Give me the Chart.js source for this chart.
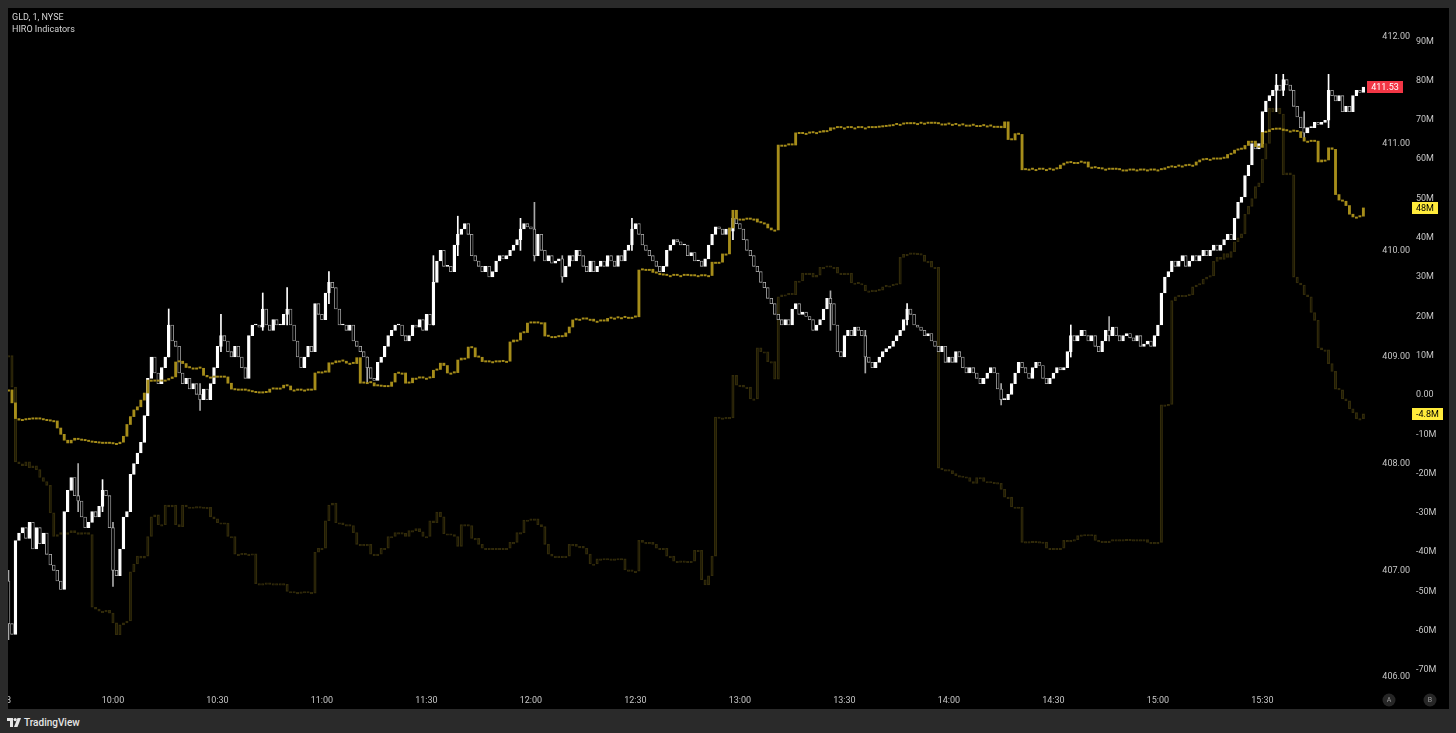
<!DOCTYPE html>
<html><head><meta charset="utf-8">
<script src="https://cdn.jsdelivr.net/npm/chart.js@4.4.1/dist/chart.umd.min.js"></script>
<style>
html,body{margin:0;padding:0;background:#2a2a2a;width:1456px;height:733px;overflow:hidden;font-family:Roboto,"Noto Sans",sans-serif;}
#pane{position:absolute;left:8px;top:8px;width:1441px;height:701px;background:#000;overflow:hidden}
#c{position:absolute;left:0;top:0}
.tt{position:absolute;left:4px;color:#d4d4d4;font-size:9px;line-height:11px;white-space:nowrap}
#foot{position:absolute;left:7px;top:715px;height:14px;display:flex;align-items:center;color:#e6e6e6;font-size:10px;font-weight:500}
#foot svg{margin-right:3px}
</style></head>
<body>
<div id="pane">
  <canvas id="c" width="1441" height="701"></canvas>
  <div class="tt" style="top:4px">GLD, 1, NYSE</div>
  <div class="tt" style="top:16px">HIRO Indicators</div>
</div>
<div id="foot"><svg width="14" height="9" viewBox="0 0 14 9"><path d="M0 0h6v9H3V3H0z" fill="#e6e6e6"/><circle cx="8.2" cy="1.6" r="1.6" fill="#e6e6e6"/><path d="M10.5 0H14L10.5 9H7z" fill="#e6e6e6"/></svg>TradingView</div>
<script>
// ---- data ----
const timeLabels = ['8','10:00','10:30','11:00','11:30','12:00','12:30','13:00','13:30','14:00','14:30','15:00','15:30'];
const tickMinutes = [0,30,60,90,120,150,180,210,240,270,300,330,360];
const priceTicks = [406,407,408,409,410,411,412];
const hiroTicks = [-70,-60,-50,-40,-30,-20,-10,0,10,20,30,40,50,60,70,80,90];
const firstOpen = 406.9;
const closes = [
406.5,406.4,407.28,407.35,407.4,407.3,407.45,407.2,407.4,407.25,
407.35,407.15,407.05,407.0,406.9,406.82,407.55,407.75,407.87,407.7,
407.65,407.5,407.4,407.45,407.55,407.5,407.6,407.75,407.7,407.4,
407.0,406.95,407.2,407.5,407.55,407.9,408.0,408.1,408.2,408.45,
408.8,409.0,408.85,408.75,408.9,409.0,409.3,409.15,409.1,408.85,
408.75,408.8,408.7,408.75,408.65,408.6,408.7,408.6,408.75,408.9,
409.1,409.2,409.15,409.05,409.0,409.1,409.0,408.9,408.8,409.2,
409.3,409.3,409.28,409.45,409.3,409.25,409.35,409.3,409.3,409.4,
409.45,409.3,409.15,409.0,408.9,409.0,409.1,409.05,409.5,409.4,
409.35,409.6,409.7,409.65,409.45,409.3,409.3,409.25,409.3,409.15,
409.1,409.05,409.0,408.9,408.8,408.78,408.95,409.0,409.1,409.2,
409.25,409.3,409.3,409.2,409.15,409.2,409.3,409.28,409.35,409.25,
409.4,409.3,409.7,409.9,410.0,409.85,409.85,409.8,410.05,410.15,
410.2,410.25,410.15,409.95,409.9,409.85,409.8,409.85,409.75,409.8,
409.9,409.95,409.92,409.95,410.0,410.05,410.1,410.2,410.25,410.22,
410.2,409.95,410.15,410.0,409.9,409.95,409.88,409.9,409.92,409.75,
409.85,409.95,409.9,410.0,409.95,409.85,409.8,409.9,409.8,409.85,
409.9,409.85,409.95,409.9,409.85,409.95,409.9,410.0,410.05,410.2,
410.25,410.15,410.05,410.0,409.95,409.9,409.85,409.8,409.85,410.0,
410.05,410.1,410.08,410.05,410.05,409.95,409.98,409.9,409.9,409.85,
409.92,410.05,410.15,410.22,410.2,410.15,410.2,410.18,410.3,410.25,
410.2,410.1,410.0,409.95,409.85,409.8,409.7,409.65,409.55,409.5,
409.4,409.35,409.3,409.35,409.3,409.45,409.5,409.4,409.42,409.38,
409.35,409.25,409.3,409.35,409.45,409.55,409.5,409.3,409.05,409.0,
409.2,409.25,409.2,409.28,409.25,409.2,409.0,408.95,408.9,408.95,
409.0,409.05,409.08,409.1,409.15,409.2,409.25,409.35,409.45,409.4,
409.3,409.28,409.25,409.2,409.22,409.15,409.1,409.05,409.1,408.95,
409.0,408.95,409.05,409.0,408.9,408.85,408.9,408.85,408.8,408.75,
408.8,408.85,408.9,408.85,408.7,408.6,408.6,408.65,408.75,408.85,
408.95,408.9,408.85,408.8,408.9,408.95,408.92,408.8,408.75,408.8,
408.85,408.9,408.88,408.9,409.05,409.2,409.15,409.2,409.25,409.2,
409.15,409.2,409.1,409.05,409.15,409.25,409.2,409.28,409.2,409.15,
409.2,409.22,409.18,409.15,409.2,409.1,409.12,409.15,409.1,409.2,
409.3,409.6,409.75,409.8,409.9,409.85,409.9,409.95,409.85,409.9,
409.95,409.9,409.95,410.0,409.95,410.0,410.05,410.0,410.05,410.1,
410.15,410.1,410.3,410.45,410.5,410.7,410.8,411.0,410.95,411.0,
411.3,411.4,411.45,411.5,411.55,411.5,411.6,411.55,411.5,411.35,
411.25,411.15,411.1,411.15,411.15,411.2,411.18,411.2,411.22,411.5,
411.45,411.4,411.45,411.3,411.35,411.3,411.45,411.5,411.48,411.53];
const wicks = [
[0,406.35,407.0],[20,407.55,408.0],[27,407.55,407.85],[30,406.85,407.45],[46,409.0,409.45],
[55,408.5,408.75],[61,409.05,409.4],[73,409.25,409.6],[80,409.3,409.65],[92,409.5,409.8],
[103,408.75,409.0],[122,409.3,409.95],[129,409.95,410.32],[147,410.0,410.3],[151,409.9,410.45],
[159,409.7,409.95],[179,410.0,410.3],[208,410.1,410.35],[236,409.25,409.62],[246,408.85,409.25],
[258,409.3,409.5],[285,408.55,408.75],[305,409.0,409.3],[316,409.15,409.38],[364,411.3,411.65],
[366,411.45,411.65],[372,411.05,411.3],[379,411.15,411.65]];
const hiroMain = [
1.3,-2,-6,-6.4,-6.2,-6.0,-5.9,-5.8,-5.8,-6.0,
-6.2,-6.3,-6.5,-6.6,-8.4,-10,-11.5,-12.2,-11.5,-11.0,
-11.2,-11.3,-11.5,-11.7,-11.8,-11.9,-12.0,-12.1,-12.0,-12.1,
-12.3,-12.4,-12.0,-10.5,-7.5,-5.5,-3.8,-3.0,-1.3,0.5,
3.8,3.8,3.5,3.6,3.5,3.8,4.2,4.6,8.4,8.6,
8.0,7.0,6.9,6.9,6.9,6.8,5.0,4.6,4.6,4.5,
4.6,4.5,4.6,3.0,1.5,1.3,1.2,1.3,1.2,1.0,
0.8,0.6,0.5,0.6,0.7,1.5,1.8,1.8,1.8,2.5,
2.3,1.3,1.3,1.2,1.3,1.3,1.2,1.3,5.6,5.9,
5.9,5.8,8.2,8.2,8.7,8.7,8.6,8.1,8.1,8.0,
9.5,3.0,3.2,3.2,3.1,2.3,2.4,2.2,2.1,2.2,
3.3,5.5,5.6,5.6,3.0,3.1,4.3,4.3,4.4,4.3,
4.3,4.4,6.3,6.5,8.1,7.5,5.6,5.6,5.7,8.9,
9.4,9.4,12.2,12.0,9.7,9.6,8.5,8.4,8.5,8.5,
8.4,8.5,8.6,8.6,13.5,14.0,14.0,15.8,15.9,18.3,
18.4,18.3,18.4,18.4,15.0,14.9,14.9,14.9,14.8,14.9,
15.8,17.3,19.1,19.3,19.3,19.4,19.3,19.3,18.8,18.8,
18.9,18.8,19.5,19.6,19.6,19.7,19.7,19.8,19.8,19.8,
19.9,31.8,32.0,32.0,32.0,31.2,31.0,30.6,30.5,30.4,
30.4,30.5,30.4,30.4,30.5,30.4,30.3,30.4,30.4,30.3,
30.4,30.4,33.8,33.8,33.8,35.9,35.9,42.5,47.0,44.8,
44.8,44.8,44.7,44.8,44.8,44.0,43.8,43.5,42.5,42.0,
42.0,63.6,63.6,63.6,63.7,63.6,66.7,66.5,66.6,66.6,
66.7,66.8,66.8,66.9,67.3,67.3,68.0,68.0,68.1,68.0,
68.0,68.1,68.0,68.0,68.1,68.0,68.0,68.1,68.0,68.1,
68.2,68.3,68.4,68.5,68.8,68.9,68.9,69.0,69.1,69.0,
69.1,69.1,69.2,69.2,69.1,69.2,69.1,69.0,69.0,69.0,
68.9,68.9,68.8,68.8,68.7,68.7,68.7,68.6,68.6,68.6,
68.5,68.5,68.4,68.4,68.4,68.0,69.5,65.0,64.9,66.5,
66.3,57.3,57.5,57.5,57.4,57.4,57.5,57.4,57.4,57.5,
57.5,57.6,58.5,59.0,59.1,59.2,59.2,59.2,59.3,59.3,
58.0,58.0,57.8,57.6,57.5,57.5,57.4,57.5,57.4,57.3,
57.3,57.3,57.2,57.3,57.3,57.2,57.3,57.3,57.2,57.3,
57.3,57.4,57.8,58.0,58.2,58.2,58.3,58.3,58.4,58.5,
58.5,59.3,59.8,59.9,60.0,60.0,60.1,60.0,60.2,60.3,
61.2,61.5,62.3,62.5,62.6,63.5,64.6,64.6,63.2,63.0,
66.8,67.0,67.5,67.7,67.6,67.7,67.3,67.2,67.2,67.1,
67.0,65.5,64.6,64.6,64.5,64.6,59.3,59.8,59.8,62.9,
62.5,51.0,49.6,49.3,48.2,46.0,45.3,45.3,45.5,47.6];
const hiroDim = [
10,2,-17,-17.5,-18,-17,-18.5,-18,-19,-21,
-22,-23,-30,-36,-35.5,-35,-35.5,-35,-34.5,-35,
-35.5,-35,-35,-35.5,-54,-54.5,-55,-55,-54.8,-55.5,
-58,-61,-58.5,-58,-57.5,-45,-43,-41,-41.5,-41,
-36,-31,-30.5,-33,-33,-28,-28.5,-28,-33,-33.5,
-28,-28.5,-28.5,-28.6,-28.4,-28.5,-28.7,-28.6,-31,-31.5,
-32.5,-32.5,-32.6,-36,-36,-40.5,-40.5,-40.3,-40.6,-40.5,
-40.4,-48,-48,-48,-47.8,-48.2,-48,-48,-48,-48.2,
-50,-50,-50.2,-50.3,-50.1,-50,-50.2,-50.4,-40,-39,
-39,-32,-28,-27.5,-32.5,-32.5,-33,-33,-33.2,-35,
-38,-38,-38.2,-38,-40.5,-40.6,-40.5,-39,-39,-36,
-36,-35,-35,-35.2,-36,-34.5,-34.5,-34,-34.8,-36,
-36,-32,-32.5,-29.8,-31,-35.3,-35.3,-35.5,-36,-38.5,
-33,-33,-33.2,-36.5,-36.5,-38,-39,-39.1,-39,-39.2,
-39,-39,-39.1,-39,-37.5,-37.5,-35,-35,-31.8,-31.8,
-31.5,-31.5,-33,-33.5,-38,-40.5,-41,-41,-41.2,-41,
-41,-38,-38,-38.5,-38.5,-39,-40.5,-43,-43,-41.7,
-41.7,-41.6,-41.8,-41.7,-41.7,-41.6,-41.7,-44.5,-44.5,-44.8,
-44.8,-37,-37.5,-37.5,-37.5,-38,-39,-39,-39,-41,
-41,-42.3,-42.3,-42.2,-42.3,-42.4,-42.3,-39.5,-39.5,-47,
-48.3,-46,-41,-5.6,-5.8,-5.8,-5.7,-5.8,5,2.5,
2.5,2,2,-1,-1,12,11,11,8.5,8.5,
4,25,25.5,25.5,25.6,25.5,29,29,31,31,
31,30,30.5,32.5,32.5,32.6,32.5,32.5,31,31,
31,31,28.5,28.5,28.3,28,26.5,26.5,26.3,26.5,
26.7,27.5,27.8,27.8,28,28.2,35,35.8,35.8,35.9,
35.8,35.7,35.6,34,34,32.5,32.5,-18.6,-19,-19,
-19.2,-20,-20.5,-20.6,-20.8,-21,-22,-22.5,-21,-21,
-22,-22,-22.2,-22.3,-22.5,-24,-26,-26,-28.5,-28.5,
-28.5,-37.5,-37.3,-37.4,-37.2,-37.3,-37.5,-37.4,-39,-39,
-39.2,-39,-39,-37,-37,-37,-36.8,-35.8,-35.6,-35.5,
-35.5,-35.6,-37,-37.2,-37.3,-37.2,-37.2,-36.8,-36.8,-36.9,
-36.8,-36.7,-36.8,-36.8,-36.9,-36.8,-36.8,-37.5,-37.5,-37.6,
-37.5,-2.5,-2.5,-2.4,24,25,25.2,25,25.3,25.5,
27.5,28,28.2,29.5,30,30.3,34,35,34.5,36,
35,36.5,39,40,41,46,48,50,53,54,
60,64,73,72,73,71.5,56,56.5,56,30,
28.5,28,25.5,25,21,19,12,11.5,11.5,8,
6,1.5,1.3,-1,-1.5,-3.5,-4.5,-6,-6,-4.8];

// ---- build datasets ----
const opens = closes.map((c,i)=> i===0 ? firstOpen : closes[i-1]);
const bodyData = closes.map((c,i)=>({x:i, y:[opens[i], c]}));
const isUp = i => closes[i] >= opens[i];
const wickData = wicks.map(w=>({x:w[0], y:[w[1], w[2]]}));
const mainData = hiroMain.map((v,i)=>({x:i, y:[i===0 ? v : hiroMain[i-1], v]}));
const dimData = hiroDim.map((v,i)=>({x:i, y:[i===0 ? v : hiroDim[i-1], v]}));

const FF = 'Roboto, "Noto Sans", sans-serif';
const TC = '#c6c6c6';
const GOLD = 'rgb(166,141,26)';
const DIM = 'rgb(50,43,10)';

const boxes = {
  id:'boxes',
  afterDraw(chart){
    const c = chart.ctx, yP = chart.scales.yP, yH = chart.scales.yH;
    c.save();
    c.font = '9px ' + FF;
    c.textBaseline = 'middle';
    const box = (x, w, y, bg, fg, txt, align) => {
      c.fillStyle = bg; c.fillRect(x, Math.round(y) - 6, w, 12);
      c.fillStyle = fg; c.textAlign = align;
      c.fillText(txt, align === 'center' ? x + w/2 : x + 4, Math.round(y) + 0.5);
    };
    const lp = closes[closes.length-1];
    box(1359, 36, yP.getPixelForValue(lp), '#f23645', '#ffffff', lp.toFixed(2), 'center');
    const fmt = v => Math.abs(v) >= 10 ? Math.round(v) + 'M' : v.toFixed(1) + 'M';
    const lm = hiroMain[hiroMain.length-1], ld = hiroDim[hiroDim.length-1];
    box(1404, 26, yH.getPixelForValue(lm), '#ffeb3b', '#000000', fmt(lm), 'left');
    box(1404, 31, yH.getPixelForValue(ld), '#ffeb3b', '#000000', fmt(ld), 'left');
    [[1381,'A'],[1422,'B']].forEach(([x,t])=>{
      c.beginPath(); c.arc(x, 692, 6.5, 0, Math.PI*2); c.fillStyle = '#262626'; c.fill();
      c.fillStyle = '#9a9a9a'; c.font = '7px ' + FF; c.textAlign = 'center'; c.fillText(t, x, 692.5);
    });
    c.restore();
  }
};

new Chart(document.getElementById('c'), {
  type: 'bar',
  data: { datasets: [
    { label:'HIRO dim', data: dimData, order: 4, grouped:false, yAxisID:'yH', barThickness: 2.4,
      backgroundColor:'rgba(0,0,0,0)', borderColor: DIM, borderWidth: 0.7, borderSkipped:false, minBarLength: 1.5 },
    { label:'wicks', data: wickData, order: 3, grouped:false, yAxisID:'yP', barThickness: 1,
      backgroundColor: ctx => isUp(ctx.raw ? ctx.raw.x : 0) ? '#ffffff' : '#a8a8a8', borderWidth:0 },
    { label:'GLD', data: bodyData, order: 2, grouped:false, yAxisID:'yP', barThickness: 2.8,
      backgroundColor: ctx => isUp(ctx.dataIndex) ? '#ffffff' : '#000000',
      borderColor: ctx => isUp(ctx.dataIndex) ? '#ffffff' : '#b4b4b4',
      borderWidth: 0.8, borderSkipped:false, minBarLength: 1 },
    { label:'HIRO', data: mainData, order: 1, grouped:false, yAxisID:'yH', barThickness: 2.2,
      backgroundColor: GOLD, borderWidth: 0, minBarLength: 1.3 }
  ]},
  options: {
    responsive:false, animation:false, events:[],
    layout:{ padding:0 },
    plugins:{ legend:{display:false}, tooltip:{enabled:false} },
    scales:{
      x:{ type:'linear', min:-0.14, max:390.9, offset:false,
          grid:{display:false, drawTicks:false}, border:{display:false},
          ticks:{ color:TC, font:{size:9, family:FF}, padding:5, autoSkip:false, maxRotation:0, minRotation:0,
                  callback: v => { const k = tickMinutes.indexOf(v); return k >= 0 ? timeLabels[k] : ''; } },
          afterBuildTicks: s => { s.ticks = tickMinutes.map(v => ({value:v})); },
          afterFit: s => { s.height = 19; s.paddingLeft = 0; s.paddingRight = 0; } },
      yP:{ type:'linear', position:'right', weight:0, min:405.878, max:412.272,
          grid:{display:false, drawTicks:false}, border:{display:false},
          ticks:{ color:TC, font:{size:9, family:FF}, padding:2, crossAlign:'far', callback: v => Number(v).toFixed(2) },
          afterBuildTicks: s => { s.ticks = priceTicks.map(v => ({value:v})); },
          afterFit: s => { s.width = 40; s.paddingTop = 0; s.paddingBottom = 0; } },
      yH:{ type:'linear', position:'right', weight:1, min:-75.06, max:98.47,
          grid:{display:false, drawTicks:false}, border:{display:false},
          ticks:{ color:TC, font:{size:9, family:FF}, padding:6, crossAlign:'near', callback: v => v === 0 ? '0.00' : v + 'M' },
          afterBuildTicks: s => { s.ticks = hiroTicks.map(v => ({value:v})); },
          afterFit: s => { s.width = 39; s.paddingTop = 0; s.paddingBottom = 0; } }
    }
  },
  plugins:[boxes]
});
</script>
</body></html>
